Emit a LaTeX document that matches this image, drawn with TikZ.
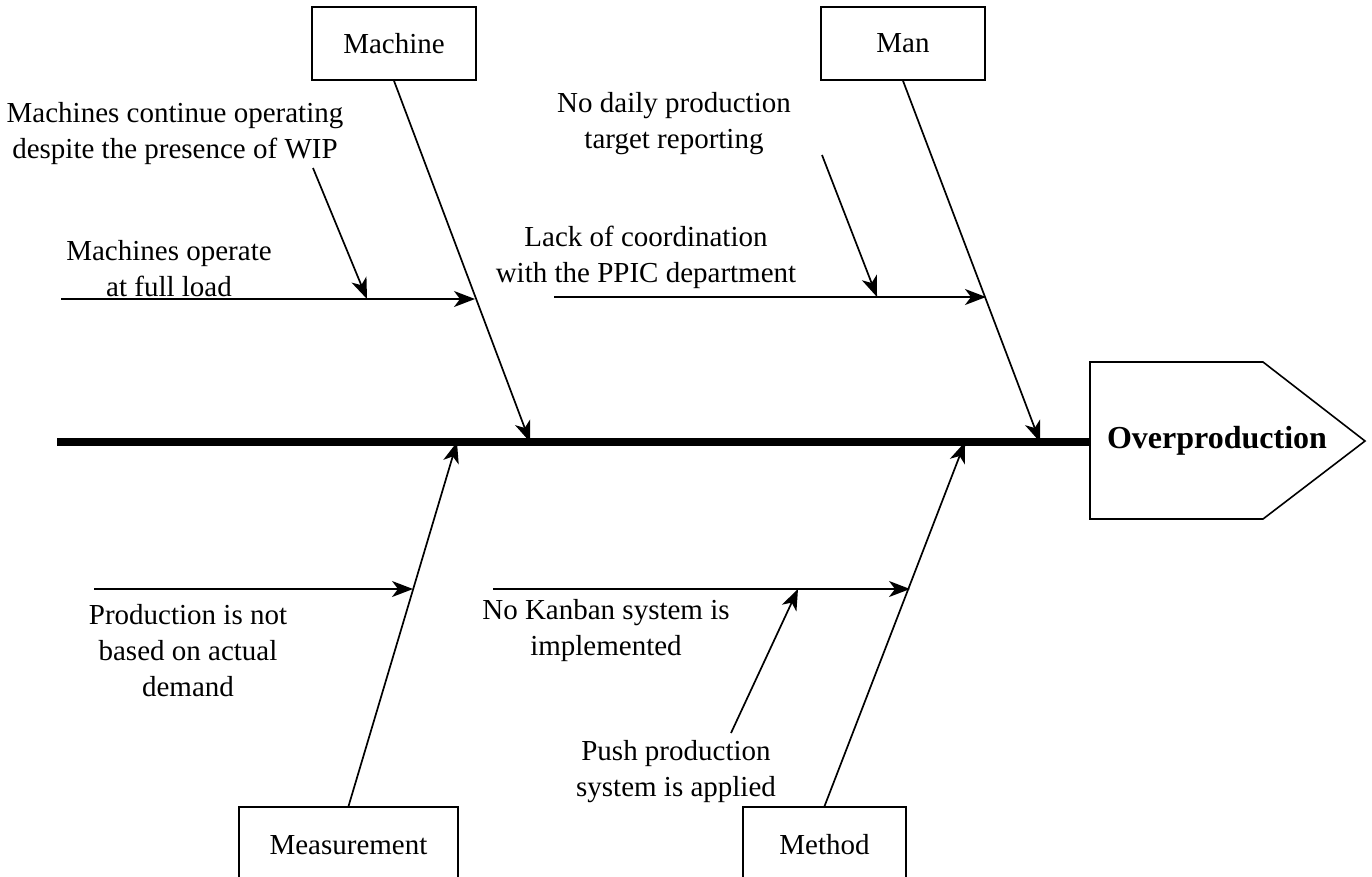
\documentclass[tikz,border=0pt]{standalone}
\usepackage{fontspec}
\setmainfont{Liberation Serif}
\usetikzlibrary{arrows.meta}
\begin{document}
\begin{tikzpicture}[x=1pt,y=-1pt,
  catbox/.style={draw,line width=1.6pt,minimum height=73pt,inner sep=0pt,
    font=\fontsize{29}{36}\selectfont},
  cause/.style={align=center,inner sep=0pt,font=\fontsize{29}{36}\selectfont},
  bone/.style={line width=1.7pt,-{Stealth[length=21pt,width=16pt,inset=6pt]}},
  spine/.style={line width=8pt}]
\useasboundingbox (0,0) rectangle (1372,876);
\clip (0,0) rectangle (1372,876);

% head of the fish
\draw[line width=1.6pt] (1090,362) -- (1263,362) -- (1365,441) -- (1263,519)
  -- (1090,519) -- cycle;
\node[font=\bfseries\fontsize{32}{38}\selectfont] (effect) at (1217,441) {Overproduction};
\coordinate (tail) at (57,442);
\coordinate (neck) at (1090,442);
\draw[spine] (tail) -- (neck);

% category boxes
\node[catbox,minimum width=164pt] (machine) at (394,43.5) {Machine};
\node[catbox,minimum width=164pt] (man) at (903,43.5) {Man};
\node[catbox,minimum width=219pt,minimum height=90pt] (measure) at (348.5,852) {};
\node[font=\fontsize{29}{36}\selectfont] (measuretxt) at (348.5,845) {Measurement};
\node[catbox,minimum width=163pt,minimum height=90pt] (method) at (824.5,852) {};
\node[font=\fontsize{29}{36}\selectfont] (methodtxt) at (824.5,845) {Method};

% main bones
\coordinate (jmachine) at (530,442);
\coordinate (jman) at (1040,442);
\coordinate (jmeasure) at (457,442);
\coordinate (jmethod) at (965,442);
\draw[bone] (machine.south) -- (jmachine);
\draw[bone] (man.south) -- (jman);
\draw[bone] (measure.north) -- (jmeasure);
\draw[bone] (method.north) -- (jmethod);

% Machine causes
\coordinate (m1s) at (61,299);
\coordinate (m1e) at (475,299);
\draw[bone] (m1s) -- (m1e);
\coordinate (m2s) at (313,168);
\coordinate (m2e) at (367,299);
\draw[bone] (m2s) -- (m2e);
\node[cause] (c1) at (175,134) {Machines continue operating\\despite the presence of WIP};
\node[cause] (c2) at (169,269) {Machines operate\\at full load};

% Man causes
\coordinate (h1s) at (554,297);
\coordinate (h1e) at (986,297);
\draw[bone] (h1s) -- (h1e);
\coordinate (h2s) at (822,155);
\coordinate (h2e) at (877,297);
\draw[bone] (h2s) -- (h2e);
\node[cause] (c3) at (674,124) {No daily production\\target reporting};
\node[cause] (c4) at (646,257) {Lack of coordination\\with the PPIC department};

% Measurement causes
\coordinate (s1s) at (94,589);
\coordinate (s1e) at (413,589);
\draw[bone] (s1s) -- (s1e);
\node[cause] (c5) at (188,651) {Production is not\\based on actual\\demand};

% Method causes
\coordinate (t1s) at (493,589);
\coordinate (t1e) at (910,589);
\draw[bone] (t1s) -- (t1e);
\coordinate (t2s) at (731,733);
\coordinate (t2e) at (798,589);
\draw[bone] (t2s) -- (t2e);
\node[cause] (c6) at (606,631) {No Kanban system is\\implemented};
\node[cause] (c7) at (676,772) {Push production\\system is applied};
\end{tikzpicture}
\end{document}
